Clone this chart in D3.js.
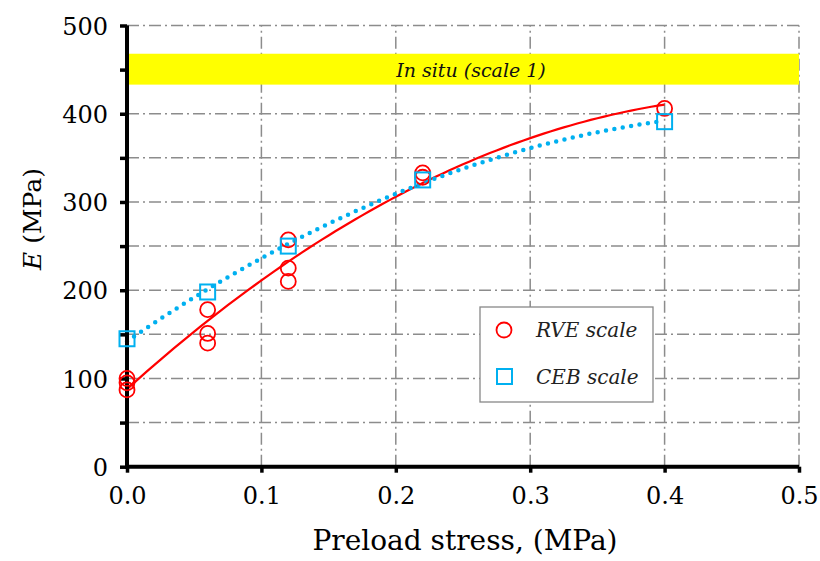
<!DOCTYPE html>
<html><head><meta charset="utf-8">
<script src="https://cdn.jsdelivr.net/npm/d3@7"></script>
<style>body{margin:0;background:#fff}</style>
</head><body>
<svg id="c" width="820" height="561"></svg>
<script>
// Data
const rveX = [0, 0, 0, 0.06, 0.06, 0.06, 0.12, 0.12, 0.12, 0.22, 0.22, 0.4];
const rveE = [100, 95, 87, 178, 151, 140, 257, 225, 210, 333, 328, 406];
const cebX = [0, 0.06, 0.12, 0.22, 0.4];
const cebE = [145, 198, 250, 325, 391];
const xTicks = [0, 0.1, 0.2, 0.3, 0.4, 0.5];
const yTicks = [0, 100, 200, 300, 400, 500];
const yMinor = [50, 150, 250, 350, 450];
const bandLow = 433, bandHigh = 468;

const FONT = "'DejaVu Serif', serif";
const svg = d3.select("#c");
const x = d3.scaleLinear().domain([0, 0.5]).range([127, 799]);
const y = d3.scaleLinear().domain([0, 500]).range([466.7, 25.5]);

// quadratic least-squares fit (trendline)
function quadFit(xs, ys) {
  let n = xs.length, s = [0,0,0,0,0], t = [0,0,0];
  for (let i = 0; i < n; i++) {
    let xi = xs[i], yi = ys[i];
    for (let k = 0; k < 5; k++) s[k] += Math.pow(xi, k);
    for (let k = 0; k < 3; k++) t[k] += yi * Math.pow(xi, k);
  }
  const A = [[s[0], s[1], s[2], t[0]], [s[1], s[2], s[3], t[1]], [s[2], s[3], s[4], t[2]]];
  for (let i = 0; i < 3; i++) {
    for (let j = i + 1; j < 3; j++) {
      const f = A[j][i] / A[i][i];
      for (let k = i; k < 4; k++) A[j][k] -= f * A[i][k];
    }
  }
  const c = [0,0,0];
  for (let i = 2; i >= 0; i--) {
    let v = A[i][3];
    for (let k = i + 1; k < 3; k++) v -= A[i][k] * c[k];
    c[i] = v / A[i][i];
  }
  return xv => c[0] + c[1] * xv + c[2] * xv * xv;
}

// grid
const dash = "12,4,2,4";
const gridY = yTicks.concat(yMinor).filter(d => d > 0);
svg.append("g").selectAll("line").data(gridY).join("line")
  .attr("x1", x(0)).attr("x2", x(0.5)).attr("y1", d => y(d)).attr("y2", d => y(d))
  .attr("stroke", "#8c8c8c").attr("stroke-width", 1.5).attr("stroke-dasharray", dash);
svg.append("g").selectAll("line").data(xTicks.filter(d => d > 0)).join("line")
  .attr("x1", d => x(d)).attr("x2", d => x(d)).attr("y1", y(0)).attr("y2", y(500))
  .attr("stroke", "#8c8c8c").attr("stroke-width", 1.5).attr("stroke-dasharray", dash);

// band (drawn over the grid)
svg.append("rect").attr("x", x(0)).attr("y", y(bandHigh))
  .attr("width", x(0.5) - x(0)).attr("height", y(bandLow) - y(bandHigh))
  .attr("fill", "#ffff00");
svg.append("text").attr("x", 471).attr("y", 77)
  .attr("text-anchor", "middle").attr("font-family", FONT).attr("font-style", "italic")
  .attr("font-size", 19).attr("fill", "#111").text("In situ (scale 1)");

// trend lines
const fR = quadFit(rveX, rveE), fC = quadFit(cebX, cebE);
const xs = d3.range(0, 0.4001, 0.005);
const line = d3.line().x(d => x(d[0])).y(d => y(d[1])).curve(d3.curveLinear);
svg.append("path").attr("d", line(xs.map(v => [v, fR(v)])))
  .attr("fill", "none").attr("stroke", "#ff0000").attr("stroke-width", 2.2);
svg.append("path").attr("d", line(xs.filter(v => v <= 0.395).map(v => [v, fC(v)])))
  .attr("fill", "none").attr("stroke", "#00b0f0").attr("stroke-width", 4.5)
  .attr("stroke-linecap", "round").attr("stroke-dasharray", "0,8.5");

// axes
const yAxis = d3.axisLeft(y).tickValues(yTicks.concat(yMinor)).tickSize(7).tickFormat(d => yTicks.includes(d) ? d : "").tickPadding(12);
const gy = svg.append("g").attr("transform", `translate(${x(0)},0)`).call(yAxis);
gy.select(".domain").attr("stroke", "#000").attr("stroke-width", 4).attr("d", `M0,${y(0)+2}V${y(500)}`);
gy.selectAll(".tick line").attr("stroke", "#000").attr("stroke-width", 3.5);
gy.selectAll(".tick text").attr("font-family", FONT).attr("font-size", 24).attr("fill", "#000").attr("dy", "0.36em");

const xAxis = d3.axisBottom(x).tickValues(xTicks).tickSize(6).tickFormat(d3.format(".1f")).tickPadding(14);
const gx = svg.append("g").attr("transform", `translate(0,${y(0)})`).call(xAxis);
gx.select(".domain").attr("stroke", "#000").attr("stroke-width", 4).attr("d", `M${x(0)-2},0H${x(0.5)}`);
gx.selectAll(".tick line").attr("stroke", "#000").attr("stroke-width", 3.5);
gx.selectAll(".tick text").attr("font-family", FONT).attr("font-size", 24).attr("fill", "#000");

// markers
svg.append("g").selectAll("circle").data(rveX.map((v, i) => [v, rveE[i]])).join("circle")
  .attr("cx", d => x(d[0])).attr("cy", d => y(d[1])).attr("r", 7.5)
  .attr("fill", "none").attr("stroke", "#ff0000").attr("stroke-width", 1.8);
svg.append("g").selectAll("rect").data(cebX.map((v, i) => [v, cebE[i]])).join("rect")
  .attr("x", d => x(d[0]) - 7.5).attr("y", d => y(d[1]) - 7.5).attr("width", 15).attr("height", 15)
  .attr("fill", "none").attr("stroke", "#00b0f0").attr("stroke-width", 2);

// axis titles
svg.append("text").attr("x", 465).attr("y", 550).attr("text-anchor", "middle")
  .attr("font-family", FONT).attr("font-size", 28).text("Preload stress, (MPa)");
const yt = svg.append("text").attr("transform", "translate(41,219) rotate(-90)").attr("text-anchor", "middle")
  .attr("font-family", FONT).attr("font-size", 25);
yt.append("tspan").attr("font-style", "italic").text("E");
yt.append("tspan").text(" (MPa)");

// legend
const lg = svg.append("g");
lg.append("rect").attr("x", 480).attr("y", 307).attr("width", 173).attr("height", 95)
  .attr("fill", "#fff").attr("stroke", "#888").attr("stroke-width", 1.3);
lg.append("circle").attr("cx", 504).attr("cy", 330).attr("r", 7.5).attr("fill", "none")
  .attr("stroke", "#ff0000").attr("stroke-width", 1.8);
lg.append("rect").attr("x", 497).attr("y", 369).attr("width", 15).attr("height", 15).attr("fill", "none")
  .attr("stroke", "#00b0f0").attr("stroke-width", 2);
lg.append("text").attr("x", 536).attr("y", 337).attr("font-family", FONT).attr("font-style", "italic")
  .attr("font-size", 20).attr("fill", "#222").text("RVE scale");
lg.append("text").attr("x", 536).attr("y", 384).attr("font-family", FONT).attr("font-style", "italic")
  .attr("font-size", 20).attr("fill", "#222").text("CEB scale");
</script>
</body></html>
